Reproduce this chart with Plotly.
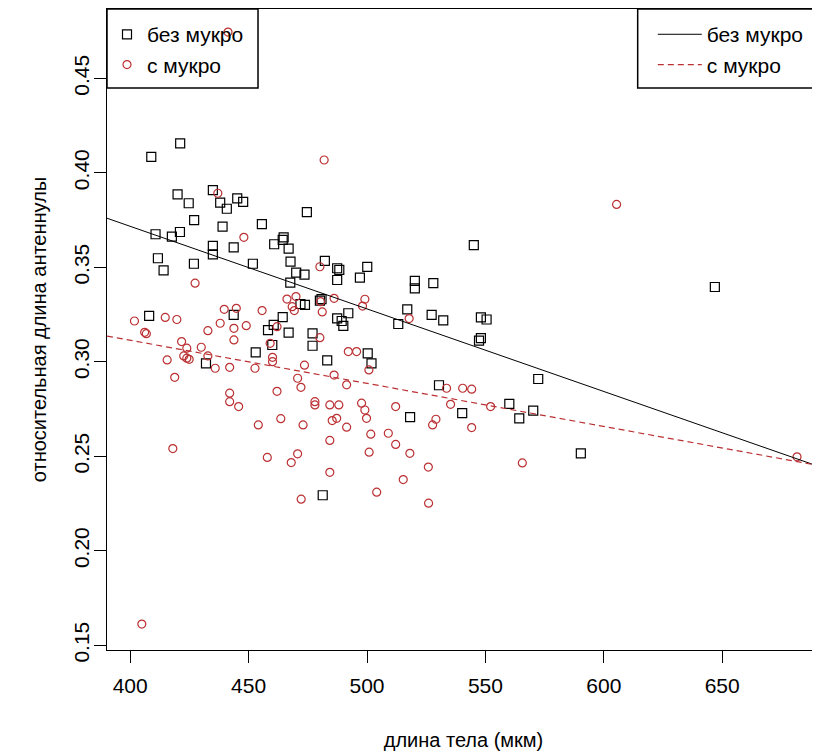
import plotly.graph_objects as go

# ---- data ----
sq_x = [421.1, 408.9, 434.9, 420.0, 424.7, 438.0, 440.8, 445.2, 447.7, 474.6,
        427.0, 439.0, 455.6, 410.7, 417.6, 421.0, 434.9, 434.9, 443.7, 460.8,
        464.8, 464.4, 466.9, 411.7, 414.1, 426.9, 451.8, 467.7, 470.1, 473.6,
        467.6, 471.9, 473.8, 408.0, 464.4, 443.7, 460.6, 458.2, 466.9, 460.0,
        453.0, 432.0, 545.1, 482.2, 487.4, 488.3, 487.4, 500.1, 497.0, 520.2,
        520.2, 528.0, 480.1, 480.8, 517.0, 492.1, 487.4, 489.3, 490.0, 527.3,
        532.2, 548.1, 550.5, 547.3, 548.1, 477.0, 477.0, 483.2, 500.3, 501.9,
        513.2, 530.4, 540.2, 518.2, 481.3, 572.3, 560.1, 564.3, 570.2, 590.3, 646.9]
sq_y = [0.4156, 0.4084, 0.3909, 0.3886, 0.3839, 0.3842, 0.3810, 0.3865, 0.3846, 0.3792,
        0.3750, 0.3715, 0.3729, 0.3675, 0.3662, 0.3687, 0.3613, 0.3569, 0.3606, 0.3622,
        0.3659, 0.3645, 0.3599, 0.3548, 0.3484, 0.3519, 0.3519, 0.3530, 0.3472, 0.3461,
        0.3419, 0.3306, 0.3301, 0.3243, 0.3237, 0.3248, 0.3195, 0.3168, 0.3154, 0.3089,
        0.3050, 0.2992, 0.3617, 0.3534, 0.3495, 0.3486, 0.3433, 0.3502, 0.3445, 0.3428,
        0.3389, 0.3416, 0.3324, 0.3332, 0.3277, 0.3257, 0.3230, 0.3216, 0.3190, 0.3248,
        0.3219, 0.3235, 0.3224, 0.3112, 0.3125, 0.3151, 0.3085, 0.3008, 0.3045, 0.2992,
        0.3200, 0.2876, 0.2728, 0.2707, 0.2294, 0.2909, 0.2777, 0.2701, 0.2742, 0.2516, 0.3396]

ci_x = [441.3, 437.0, 448.0, 427.4, 466.2, 470.0, 468.4, 469.3, 439.7, 444.8,
        455.7, 414.8, 419.7, 401.8, 406.1, 406.8, 438.0, 432.8, 443.8, 449.0,
        443.8, 462.0, 459.1, 421.7, 423.9, 430.0, 422.6, 423.9, 424.9, 432.8,
        415.6, 435.9, 442.0, 452.7, 460.1, 460.1, 473.6, 418.8, 470.7, 472.1,
        462.0, 442.0, 442.0, 445.8, 463.6, 454.1, 473.0, 418.0, 457.9, 470.7,
        468.0, 472.2, 404.9, 481.9, 480.1, 480.4, 481.1, 486.1, 499.1, 498.1,
        517.8, 480.1, 492.1, 495.6, 500.8, 486.1, 491.4, 533.6, 540.4, 544.2,
        552.2, 535.3, 478.0, 478.0, 484.3, 488.1, 497.7, 499.1, 499.8, 512.1,
        485.3, 487.2, 491.4, 529.1, 527.7, 544.2, 484.3, 501.6, 509.0, 512.1,
        500.9, 518.1, 525.9, 484.3, 565.6, 515.3, 504.1, 526.0, 605.4, 681.6]
ci_y = [0.4745, 0.3892, 0.3659, 0.3416, 0.3332, 0.3345, 0.3292, 0.3271, 0.3278, 0.3283,
        0.3271, 0.3235, 0.3224, 0.3216, 0.3156, 0.3149, 0.3204, 0.3165, 0.3177, 0.3191,
        0.3116, 0.3186, 0.3098, 0.3107, 0.3072, 0.3077, 0.3031, 0.3019, 0.3013, 0.3031,
        0.3010, 0.2966, 0.2971, 0.2966, 0.3024, 0.3001, 0.2982, 0.2918, 0.2913, 0.2865,
        0.2844, 0.2834, 0.2789, 0.2763, 0.2699, 0.2666, 0.2666, 0.2541, 0.2494, 0.2513,
        0.2467, 0.2273, 0.1612, 0.4068, 0.3503, 0.3318, 0.3264, 0.3336, 0.3331, 0.3295,
        0.3229, 0.3128, 0.3054, 0.3054, 0.2957, 0.2930, 0.2878, 0.2860, 0.2860, 0.2855,
        0.2763, 0.2775, 0.2789, 0.2772, 0.2772, 0.2772, 0.2781, 0.2745, 0.2701, 0.2763,
        0.2689, 0.2701, 0.2654, 0.2696, 0.2666, 0.2652, 0.2584, 0.2617, 0.2622, 0.2563,
        0.2522, 0.2516, 0.2443, 0.2415, 0.2465, 0.2377, 0.2310, 0.2252, 0.3833, 0.2497]

# regression lines (intercept, slope)
fit_sq = [0.5465, -0.000437]
fit_ci = [0.4026, -0.000228]

labels = ["без мукро", "с мукро"]
x_title = "длина тела (мкм)"
y_title = "относительная длина антеннулы"

x_range = [390.2, 691.3]
y_range = [0.1475, 0.4867]

RED = "#bb3033"
FONT = "Liberation Sans, Arial, sans-serif"

fig = go.Figure()
fig.add_trace(go.Scatter(x=sq_x, y=sq_y, mode="markers", name=labels[0], legend="legend",
                         marker=dict(symbol="square-open", size=9, color="black",
                                     line=dict(width=1.2, color="black"))))
fig.add_trace(go.Scatter(x=ci_x, y=ci_y, mode="markers", name=labels[1], legend="legend",
                         marker=dict(symbol="circle-open", size=8, color=RED,
                                     line=dict(width=1.2, color=RED))))

lx = [x_range[0], x_range[1]]
fig.add_trace(go.Scatter(x=lx, y=[fit_sq[0] + fit_sq[1] * v for v in lx], mode="lines",
                         name=labels[0], legend="legend2",
                         line=dict(color="black", width=1)))
fig.add_trace(go.Scatter(x=lx, y=[fit_ci[0] + fit_ci[1] * v for v in lx], mode="lines",
                         name=labels[1], legend="legend2",
                         line=dict(color=RED, width=1.2, dash="6px,4px")))

# the page has an 8px body margin, so the figure is 812x745 and starts at (8, 8)
fig.update_layout(
    width=812, height=745,
    margin=dict(l=99, r=0, t=1, b=103, autoexpand=False),
    paper_bgcolor="white", plot_bgcolor="white",
    font=dict(family=FONT, size=21, color="black"),
    showlegend=True,
    legend=dict(x=0.0, y=0.992, xanchor="left", yanchor="top", bgcolor="rgba(0,0,0,0)",
                borderwidth=0, font=dict(size=21), tracegroupgap=0),
    legend2=dict(x=0.7655, y=0.992, xanchor="left", yanchor="top", bgcolor="rgba(0,0,0,0)",
                 borderwidth=0, font=dict(size=21), tracegroupgap=0, itemwidth=44),
    xaxis=dict(range=x_range, tick0=400, dtick=50, ticks="outside", ticklen=12,
               tickcolor="black", showline=True, linecolor="black", linewidth=1,
               mirror=True, showgrid=False, zeroline=False, automargin=False,
               tickfont=dict(size=21),
               title=dict(text=x_title, standoff=36, font=dict(size=20)),
               ticklabelstandoff=5),
    yaxis=dict(range=y_range, tick0=0.15, dtick=0.05, tickformat=".2f", tickangle=-90,
               ticks="outside", ticklen=12, tickcolor="black", showline=True,
               linecolor="black", linewidth=1, showgrid=False, zeroline=False,
               automargin=False, tickfont=dict(size=21),
               title=dict(text=y_title, standoff=17, font=dict(size=20)),
               ticklabelstandoff=-3),
    shapes=[
        dict(type="rect", xref="paper", yref="paper", x0=0, x1=0.2118, y0=0.8768, y1=1.0,
             line=dict(color="black", width=1.5)),
        dict(type="rect", xref="paper", yref="paper", x0=0.7443, x1=1.05, y0=0.8768, y1=1.0,
             line=dict(color="black", width=1.5)),
    ],
)

fig.write_html("out.html")
